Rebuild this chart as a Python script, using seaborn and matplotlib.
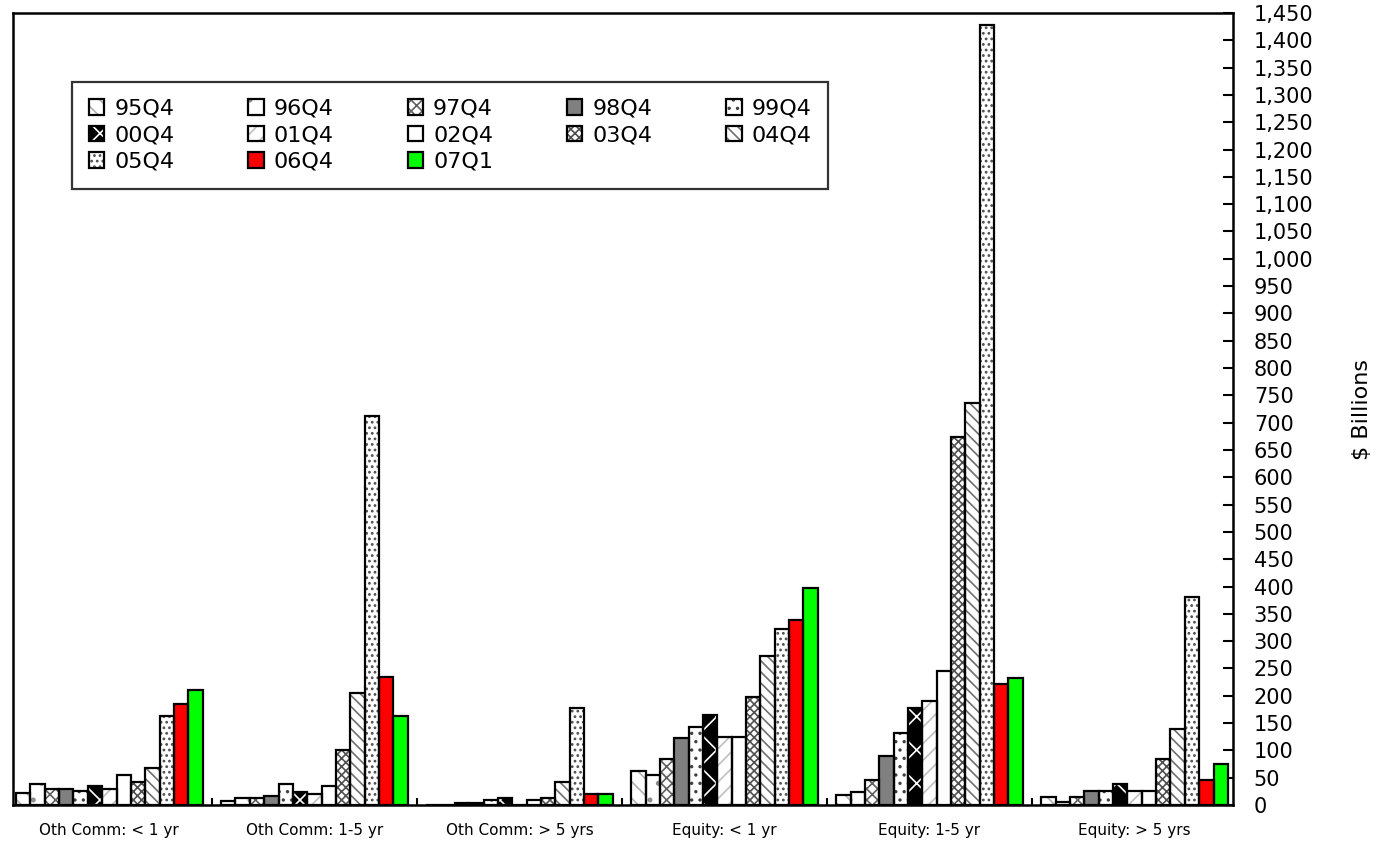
import numpy as np
import pandas as pd
import matplotlib.pyplot as plt
import seaborn as sns
from matplotlib.patches import Patch
from matplotlib.legend_handler import HandlerTuple
from matplotlib.ticker import FuncFormatter

# ---------- Data ----------
categories = ["Oth Comm: < 1 yr", "Oth Comm: 1-5 yr", "Oth Comm: > 5 yrs",
              "Equity: < 1 yr", "Equity: 1-5 yr", "Equity: > 5 yrs"]
periods = ["95Q4", "96Q4", "97Q4", "98Q4", "99Q4", "00Q4", "01Q4",
           "02Q4", "03Q4", "04Q4", "05Q4", "06Q4", "07Q1"]

oth_lt1 = [22, 38, 29, 29, 26, 35, 29, 55, 43, 68, 163, 185, 210]
oth_1to5 = [8, 13, 13, 17, 38, 24, 20, 34, 100, 205, 712, 235, 163]
oth_gt5 = [0, 0, 4, 4, 9, 12, 0, 9, 12, 43, 177, 21, 21]
eq_lt1 = [63, 55, 84, 122, 143, 164, 125, 125, 198, 272, 323, 339, 397]
eq_1to5 = [19, 23, 45, 90, 131, 177, 190, 246, 674, 736, 1428, 221, 233]
eq_gt5 = [14, 5, 14, 26, 26, 38, 26, 26, 85, 140, 381, 46, 75]

values = [oth_lt1, oth_1to5, oth_gt5, eq_lt1, eq_1to5, eq_gt5]
rows = []
for cat, vals in zip(categories, values):
    for per, v in zip(periods, vals):
        rows.append({"category": cat, "period": per, "value": v})
df = pd.DataFrame(rows)

# ---------- Styles per period (face, hatch, hatch colour) ----------
faces = ["white", "white", "white", "#808080", "white", "black", "white",
         "white", "white", "white", "white", "#FF0000", "#00FF00"]
hatches = ["\\\\", ".", "xxx", "", "..", "x", "//",
           "", "xxxx", "\\\\\\", "...", "", ""]
hatch_cols = ["#B0B0B0", "#909090", "#606060", "#808080", "#404040", "white", "#C0C0C0",
              "white", "#505050", "#707070", "#505050", "#FF0000", "#00FF00"]

sns.set_style("white")
plt.rcParams["font.family"] = ["DejaVu Sans"]
plt.rcParams["hatch.linewidth"] = 1.2
plt.rcParams["text.color"] = "black"
plt.rcParams["axes.labelcolor"] = "black"
plt.rcParams["xtick.color"] = "black"
plt.rcParams["ytick.color"] = "black"

fig = plt.figure(figsize=(13.81, 8.43), dpi=100)
ax = fig.add_axes([13 / 1381, 1 - 805 / 843, 1220 / 1381, 792 / 843])

palette = dict(zip(periods, faces))

# ---------- Layer 1: fills and hatches ----------
sns.barplot(data=df, x="category", y="value", hue="period", order=categories,
            hue_order=periods, palette=palette, width=0.91, gap=0,
            saturation=1, errorbar=None, linewidth=0, legend=False, ax=ax)
n_fill = len(ax.containers)
for i, cont in enumerate(ax.containers):
    for p in cont:
        p.set_hatch(hatches[i])
        p.set_edgecolor(hatch_cols[i])
        p.set_linewidth(0)
        p.set_zorder(2)

# ---------- Layer 2: black outlines ----------
sns.barplot(data=df, x="category", y="value", hue="period", order=categories,
            hue_order=periods, palette=palette, width=0.91, gap=0,
            saturation=1, errorbar=None, legend=False, ax=ax)
for cont in ax.containers[n_fill:]:
    for p in cont:
        p.set_facecolor("none")
        p.set_edgecolor("black")
        p.set_linewidth(1.6)
        p.set_zorder(3)

# ---------- Axes ----------
ax.set_xlim(-0.47, 5.48)
ax.set_ylim(0, 1450)
ax.set_xlabel("")
ax.set_xticks(range(len(categories)))
ax.set_xticklabels(categories, fontsize=11)
ax.set_xticks(np.arange(0.5, 5.0, 1.0), minor=True)
ax.tick_params(axis="x", which="major", length=0, pad=13)
ax.tick_params(axis="x", which="minor", direction="in", length=5, width=1.5,
               bottom=True)

ax.yaxis.tick_right()
ax.yaxis.set_label_position("right")
ax.set_yticks(np.arange(0, 1451, 50))
ax.yaxis.set_major_formatter(FuncFormatter(lambda v, _: f"{v:,.0f}"))
ax.tick_params(axis="y", which="major", direction="in", length=7, width=1.5,
               labelsize=15, pad=15, right=True, left=False)
ax.set_ylabel(r"\$ Billions", fontsize=16, labelpad=28)

for s in ax.spines.values():
    s.set_visible(True)
    s.set_color("black")
    s.set_linewidth(1.8)

# ---------- Legend (row-major order like the original) ----------
handles = []
for i, per in enumerate(periods):
    fill = Patch(facecolor=faces[i], hatch=hatches[i], edgecolor=hatch_cols[i], linewidth=0)
    outline = Patch(facecolor="none", edgecolor="black", linewidth=1.6)
    handles.append((fill, outline))
order = [0, 5, 10, 1, 6, 11, 2, 7, 12, 3, 8, 4, 9]
leg = ax.legend([handles[i] for i in order], [periods[i] for i in order],
                handler_map={tuple: HandlerTuple(ndivide=1, pad=0)},
                ncol=5, loc="upper left", bbox_to_anchor=(0.0484, 0.787, 0.62, 0.126),
                mode="expand", borderaxespad=0, fontsize=16, frameon=True,
                fancybox=False, edgecolor="black", handlelength=0.7,
                handleheight=0.7, handletextpad=0.45, labelspacing=0.3,
                borderpad=0.75)
leg.get_frame().set_linewidth(1.6)
leg.set_zorder(5)

plt.savefig("out.png", dpi=100)
